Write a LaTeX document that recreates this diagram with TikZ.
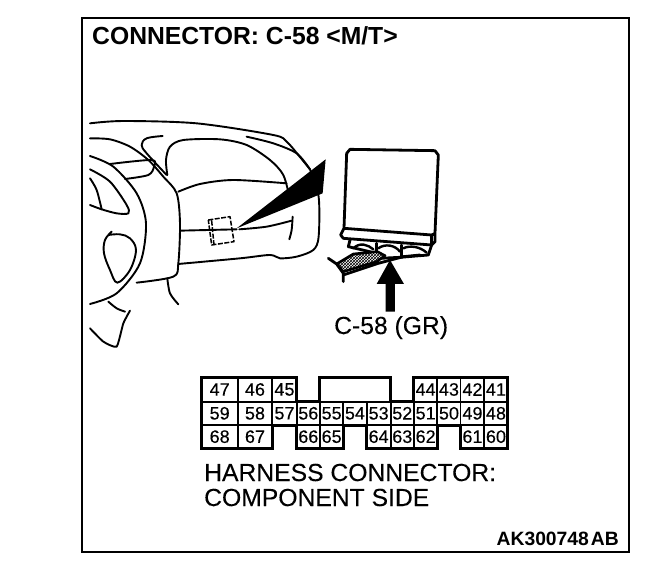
\documentclass[tikz,border=0pt]{standalone}
\usepackage{fontspec}
\setmainfont{Liberation Sans}
\usetikzlibrary{patterns}
\newcommand{\cellbox}[5]{\draw[cellline] (#1,#3) rectangle (#2,#4) node[midway,celltext] (c#5) {#5};}
\tikzset{
 cellline/.style={line width=1.7pt},
 celltext/.style={inner sep=0pt,font=\fontsize{18}{18}\selectfont\addfontfeature{FakeBold=0.2}},
 sk/.style={line width=1.9pt,line join=round,line cap=round},
 skthick/.style={line width=2.8pt,line join=round,line cap=round},
 lab/.style={inner sep=0pt,anchor=base west,font=\fontsize{24.7}{26}\selectfont\addfontfeature{FakeBold=0.15}},
 labb/.style={lab,font=\fontsize{24.7}{26}\selectfont\bfseries},
}
\begin{document}
\begin{tikzpicture}[x=1pt,y=-1pt]
\useasboundingbox (0,0) rectangle (672,576);
\fill[white] (0,0) rectangle (672,576);
\draw[line width=1.7pt] (82,18) rectangle (629,552);
\node[labb] (title) at (92,44) {CONNECTOR: C-58 <M/T>};
\node[lab] (cname) at (334,334) {C-58 (GR)};
\node[lab] (h1) at (204,481) {HARNESS CONNECTOR:};
\node[lab] (h2) at (204,506) {COMPONENT SIDE};
\node[inner sep=0pt,anchor=base east,font=\fontsize{19.3}{20}\selectfont\bfseries] (code) at (619,545) {AK300748\kern2pt AB};
% dashboard
\begin{scope}[shift={(80,110)},x=0.3333pt,y=-0.3333pt,sk]
\draw plot[smooth,tension=0.5] coordinates {(30,40)(130,33)(350,40)(580,75)(620,95)(655,135)(690,178)};
\draw plot[smooth,tension=0.5] coordinates {(500,80)(580,100)(650,130)(690,178)};
\draw plot[smooth,tension=0.5] coordinates {(30,85)(90,88)(150,110)(205,150)(250,200)(290,250)(300,340)(295,460)(280,500)(170,518)};
\draw plot[smooth,tension=0.6] coordinates {(248,78)(200,85)(185,105)(200,130)(260,195)};
\draw plot[smooth,tension=0.5] coordinates {(30,138)(100,170)(170,250)(198,340)(180,460)(110,550)(30,582)};
\draw plot[smooth,tension=0.5] coordinates {(30,178)(90,215)(140,285)(145,310)(110,310)(65,298)(30,285)};
\draw plot[smooth,tension=0.5] coordinates {(30,205)(50,240)(65,298)};
\draw plot[smooth,tension=0.5] coordinates {(90,162)(215,150)(222,170)(205,195)(135,207)};
\draw plot[smooth,tension=0.6] coordinates {(95,365)(75,390)(72,430)(90,480)(112,518)(150,480)(168,420)(150,385)(120,373)(85,375)};
\draw plot[smooth,tension=0.5] coordinates {(85,575)(110,595)(135,605)};
\draw plot[smooth,tension=0.3] coordinates {(150,602)(130,640)(110,710)(70,695)(30,655)};
\draw plot[smooth,tension=0.5] coordinates {(262,505)(270,550)(295,583)};
\draw plot[smooth,tension=0.5] coordinates {(262,195)(258,150)(270,110)(310,90)(420,88)(500,105)(570,150)(610,195)(628,260)};
\draw plot[smooth,tension=0.5] coordinates {(295,245)(360,222)(460,210)(620,220)};
\draw plot[smooth,tension=0.5] coordinates {(690,178)(716,260)(716,380)(700,420)(650,440)(600,445)(570,435)(480,445)(295,462)};
\draw (300,362) -- (470,358);
\draw plot[smooth,tension=0.5] coordinates {(478,358)(560,350)(635,332)};
\draw plot[smooth,tension=0.5] coordinates {(638,320)(635,360)(628,388)};
\fill (470,355) -- (737,148) -- (728,250) -- cycle;
\draw[line cap=butt,dash pattern=on 5pt off 1.5pt,line width=1.5pt] (385,330) -- (450,320) -- (462,395) -- (395,405) -- cycle (395,332) -- (402,405);
\end{scope}
% module
\begin{scope}[shift={(320,140)},x=0.3333pt,y=-0.3333pt,sk]
\draw[skthick] (72,265) -- (80,40) -- (90,28) -- (345,32) -- (355,45) -- (345,280) -- (345,305) -- (335,315) -- (70,295) -- (62,285) -- (72,265) -- (335,285) -- (345,280);
\draw[skthick] (335,285) -- (335,315);
\draw[skthick] (90,300) -- (85,320) -- (170,340) -- (180,355) -- (240,352) -- (325,345) -- (335,315);
\draw[line width=2.4pt] (100,325) .. controls (120,305) and (145,315) .. (160,328);
\draw[line width=2.4pt] (175,325) .. controls (195,310) and (225,315) .. (240,335);
\draw[line width=2.4pt] (250,325) .. controls (270,315) and (300,320) .. (320,338);
\draw[skthick] (170,310) -- (170,340) (245,315) -- (245,350);
\fill[white] (50,372) -- (100,342) -- (172,335) -- (195,347) -- (170,365) -- (70,395) -- cycle;
\draw[pattern=crosshatch,line width=2.6pt] (50,372) -- (100,342) -- (172,335) -- (195,347) -- (170,365) -- (70,395) -- cycle;
\draw[skthick] (25,355) -- (50,372) (50,372) -- (70,400) -- (70,425);
\draw[skthick] (70,405) -- (175,370) -- (250,350) -- (300,345);
\fill (210,360) -- (252,432) -- (225,432) -- (225,515) -- (197,515) -- (197,432) -- (170,432) -- cycle;
\end{scope}
% connector face
\begin{scope}[shift={(195,370)},x=0.3333pt,y=-0.3333pt]
\cellbox{20}{128}{22}{95}{47}
\cellbox{128}{232}{22}{95}{46}
\cellbox{232}{305}{22}{95}{45}
\cellbox{657}{727}{22}{95}{44}
\cellbox{727}{797}{22}{95}{43}
\cellbox{797}{868}{22}{95}{42}
\cellbox{868}{938}{22}{95}{41}
\cellbox{20}{128}{95}{165}{59}
\cellbox{128}{232}{95}{165}{58}
\cellbox{232}{305}{95}{165}{57}
\cellbox{305}{375}{95}{165}{56}
\cellbox{375}{445}{95}{165}{55}
\cellbox{445}{515}{95}{165}{54}
\cellbox{515}{587}{95}{165}{53}
\cellbox{587}{657}{95}{165}{52}
\cellbox{657}{727}{95}{165}{51}
\cellbox{727}{797}{95}{165}{50}
\cellbox{797}{868}{95}{165}{49}
\cellbox{868}{938}{95}{165}{48}
\cellbox{20}{128}{165}{235}{68}
\cellbox{128}{232}{165}{235}{67}
\cellbox{305}{375}{165}{235}{66}
\cellbox{375}{445}{165}{235}{65}
\cellbox{515}{587}{165}{235}{64}
\cellbox{587}{657}{165}{235}{63}
\cellbox{657}{727}{165}{235}{62}
\cellbox{797}{868}{165}{235}{61}
\cellbox{868}{938}{165}{235}{60}
\draw[line width=3pt,line join=miter] (20,22) -- (305,22) -- (305,95) -- (375,95) -- (375,22) -- (587,22) -- (587,95) -- (657,95) -- (657,22) -- (938,22) -- (938,235) -- (797,235) -- (797,165) -- (727,165) -- (727,235) -- (515,235) -- (515,165) -- (445,165) -- (445,235) -- (305,235) -- (305,165) -- (232,165) -- (232,235) -- (20,235) -- cycle;
\end{scope}
\end{tikzpicture}
\end{document}
